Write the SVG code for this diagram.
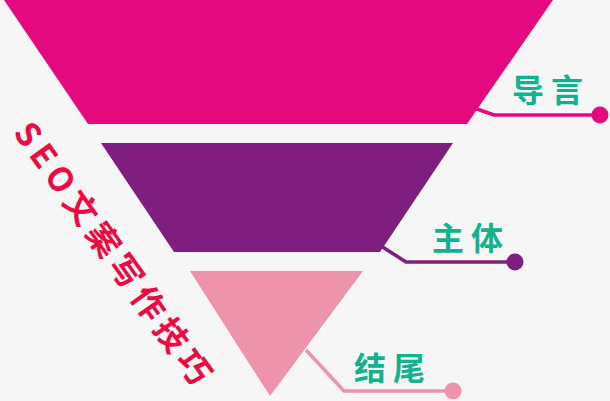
<svg xmlns="http://www.w3.org/2000/svg" width="610" height="401" viewBox="0 0 610 401">
<style>
.lbl{font-family:"Noto Sans CJK SC","Noto Sans",sans-serif;font-weight:bold;font-size:32px;fill:#12B28E;letter-spacing:7px}
.title{font-family:"Noto Sans CJK SC","Liberation Sans",sans-serif;font-weight:bold;font-size:33px;fill:#EC0A40;letter-spacing:6px}
.ln{fill:none;stroke-width:3.5}
</style>
<rect width="610" height="401" fill="#F6F6F6"/>
<g id="connectors">
<polyline class="ln" stroke="#E4097F" points="474,108 494,115 600,115"/>
<circle cx="600" cy="115" r="8.5" fill="#E4097F"/>
<polyline class="ln" stroke="#7F1E7E" points="381,246 406,262 515,262"/>
<circle cx="515" cy="262" r="8.5" fill="#7F1E7E"/>
<polyline class="ln" stroke="#EE93AC" points="306,350 344,391 453,391"/>
<circle cx="453" cy="391" r="8.5" fill="#EE93AC"/>
</g>
<g id="intro">
<polygon points="4,0 553,0 467,124 88,124" fill="#E4097F"/>
<text class="lbl" x="512" y="102">导言</text>
</g>
<g id="body">
<polygon points="101,143 453,143 380,252 174,252" fill="#7F1E7E"/>
<text class="lbl" x="432" y="250">主体</text>
</g>
<g id="ending">
<polygon points="190,271 363,271 270,396" fill="#EE93AC"/>
<text class="lbl" x="354" y="380">结尾</text>
</g>
<g id="title">
<text class="title" text-anchor="middle" transform="translate(113,253) rotate(54.5)" x="3" y="12">SEO文案写作技巧</text>
</g>
</svg>
